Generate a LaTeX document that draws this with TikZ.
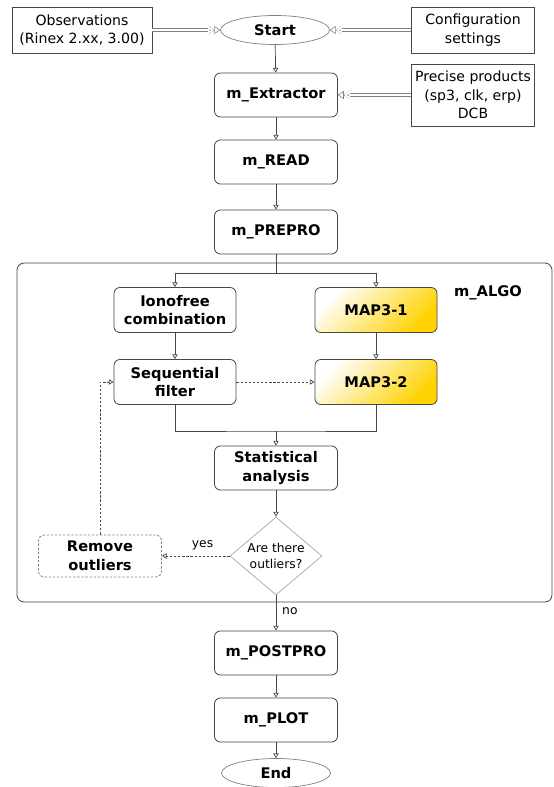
\documentclass[tikz,border=0pt]{standalone}
\usepackage{fontspec}
\setmainfont{DejaVu Sans}
\usetikzlibrary{arrows.meta,shapes.geometric}
\definecolor{boxline}{HTML}{474747}
\definecolor{mapgold}{HTML}{FFD200}
\tikzset{
    block/.style={draw=boxline, rectangle, rounded corners=5pt, minimum width=3.69cm, minimum height=1.32cm, line width=0.7pt, align=center, inner sep=2pt, font=\fontsize{12.5}{16}\selectfont\bfseries},
    inbox/.style={draw=boxline, rectangle, minimum width=3.69cm, minimum height=1.38cm, line width=0.7pt, align=center, inner sep=2pt, font=\fontsize{12}{16}\selectfont},
    term/.style={draw=gray, ellipse, minimum width=3.27cm, minimum height=0.87cm, inner sep=0pt, line width=0.6pt, font=\fontsize{12.5}{16}\selectfont\bfseries},
    mapbox/.style={block, top color=white, bottom color=mapgold, shading angle=45},
    arr/.style={-{Triangle[open, length=4pt, width=4.5pt]}, draw=boxline, line width=0.6pt},
    dasharr/.style={arr, dash pattern=on 2pt off 1.5pt},
    feed/.style={-{Triangle[open, length=5pt, width=7pt]}, draw=gray, line width=0.5pt,
        preaction={draw=gray, line width=2.6pt, shorten >=5pt},
        postaction={draw=white, line width=1.4pt, shorten >=5.3pt}},
    small/.style={font=\fontsize{10.5}{14}\selectfont}
}

\begin{document}
\begin{tikzpicture}[x=0.03cm, y=-0.03cm]
        \useasboundingbox (0,0) rectangle (553,787);

        % Inputs and start
        \node [inbox, minimum width=4.2cm] (obs) at (82,30) {Observations\\(Rinex 2.xx, 3.00)};
        \node [term] (start) at (275,30) {Start};
        \node [inbox] (conf) at (473,30) {Configuration\\settings};
        \node [inbox, minimum height=1.86cm] (prec) at (473,95) {Precise products\\(sp3, clk, erp)\\DCB};

        % Main modules
        \node [block] (extr) at (276,95) {m\_Extractor};
        \node [block] (read) at (276,162) {m\_READ};
        \node [block] (prepro) at (276,232) {m\_PREPRO};

        % The m_ALGO frame
        \draw [draw=boxline, rounded corners=6pt, line width=0.7pt] (17,263) rectangle (552,602);
        \node [font=\fontsize{12.5}{16}\selectfont\bfseries] (algo) at (488,293) {m\_ALGO};
        \coordinate (split) at (276,273);
        \coordinate (join) at (276,431);

        \node [block, minimum width=3.66cm, minimum height=1.35cm] (iono) at (175,310) {Ionofree\\combination};
        \node [mapbox, minimum width=3.66cm, minimum height=1.35cm] (map1) at (376,310) {MAP3-1};
        \node [block, minimum width=3.66cm, minimum height=1.35cm] (seq) at (175,382) {Sequential\\filter};
        \node [mapbox, minimum width=3.66cm, minimum height=1.35cm] (map2) at (376,382) {MAP3-2};
        \node [block] (stat) at (276,468) {Statistical\\analysis};
        \node [draw=gray!70, diamond, aspect=1.18, minimum width=2.76cm, minimum height=2.34cm, inner sep=0pt, line width=0.6pt, align=center, small] (ask) at (276,556) {Are there\\outliers?};
        \node [block, draw=gray, dash pattern=on 2pt off 1.5pt, minimum height=1.26cm] (remove) at (100,556) {Remove\\outliers};

        % Post processing and end
        \node [block] (postpro) at (276,653) {m\_POSTPRO};
        \node [block] (plot) at (276,720) {m\_PLOT};
        \node [term] (stop) at (276,773) {End};

        % Arrows
        \draw [feed] (obs) -- (start);
        \draw [feed] (conf) -- (start);
        \draw [feed] (prec) -- (extr);
        \draw [arr] (start) -- (extr);
        \draw [arr] (extr) -- (read);
        \draw [arr] (read) -- (prepro);
        \draw [draw=boxline, line width=0.6pt] (prepro) -- (split);
        \draw [arr] (split) -| (iono);
        \draw [arr] (split) -| (map1);
        \draw [arr] (iono) -- (seq);
        \draw [arr] (map1) -- (map2);
        \draw [dasharr] (seq) -- (map2);
        \draw [draw=boxline, line width=0.6pt] (seq.south) |- (join) -| (map2.south);
        \draw [arr] (join) -- (stat);
        \draw [arr] (stat) -- (ask);
        \draw [dasharr] (ask) -- node [pos=0.4, above, inner sep=5pt, small] {yes} (remove);
        \draw [dasharr] (remove) |- (seq);
        \draw [arr] (ask) -- node [pos=0.45, right, inner sep=5pt, small] {no} (postpro);
        \draw [arr] (postpro) -- (plot);
        \draw [arr] (plot) -- (stop);
    \end{tikzpicture}
\end{document}
